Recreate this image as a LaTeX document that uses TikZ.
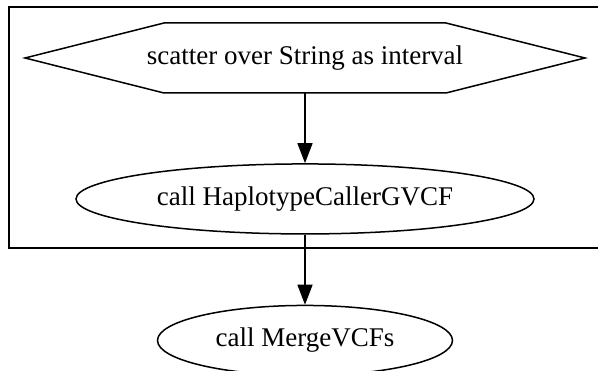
\documentclass[tikz,border=0pt]{standalone}
\usepackage{fontspec}
\setmainfont{Liberation Serif}
\usetikzlibrary{shapes.geometric}
\usetikzlibrary{positioning}
\usetikzlibrary{chains}
\usetikzlibrary{arrows.meta}

\begin{document}
\begin{tikzpicture}[
			x=1pt, y=1pt,
			start chain=going below,
			node distance=70pt,
			every on chain/.style={
				font=\fontsize{27}{32}\selectfont,
				minimum height=70pt,
				inner sep=0pt,
			},
			task/.style={
				ellipse,
				draw=black,
				line width=1.5pt,
			},
			scatterbox/.style={
				minimum width=282pt,
			},
			hexline/.style={
				line width=1.5pt,
				line join=miter,
			},
			flow/.style={
				-{Triangle[length=20pt,width=15pt]},
				line width=1.5pt,
			},
			]
			\path[use as bounding box, clip] (0,0) rectangle (598,371);
			%% scatter block
			\draw[line width=1.5pt] (9,123) rectangle (602,364);
			\node [on chain, scatterbox, at={(305,313)}] (scatter) {scatter over String as interval};
			\node [on chain, task, minimum width=458pt] (hcall) {call HaplotypeCallerGVCF};
			\node [on chain, task, minimum width=295pt] (merge) {call MergeVCFs};
			\draw[hexline] ([shift={(-141,35)}]scatter.center) -- ([shift={(141,35)}]scatter.center)
				-- ([shift={(280,0)}]scatter.center) -- ([shift={(141,-35)}]scatter.center)
				-- ([shift={(-141,-35)}]scatter.center) -- ([shift={(-280,0)}]scatter.center) -- cycle;
			%% edges
			\draw[flow] (scatter.south) -- (hcall.north);
			\draw[flow] (hcall.south) -- (merge.north);
		\end{tikzpicture}
\end{document}
